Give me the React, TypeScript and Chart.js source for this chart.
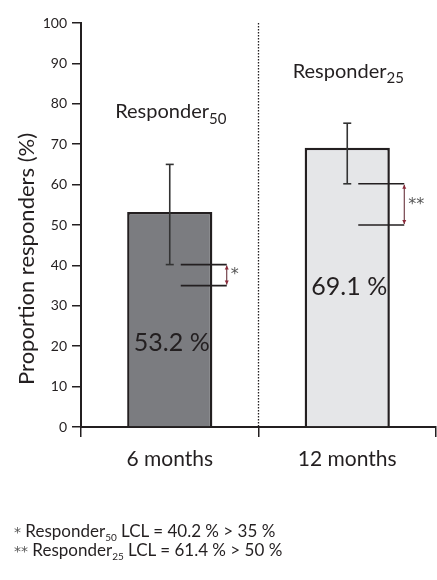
import React, { useEffect, useRef } from "react";
import { Chart, registerables } from "chart.js";

Chart.register(...registerables);

const categories = ["6 months", "12 months"];
const proportions = [53.2, 69.1];
const ciLower = [40.2, 60.2];
const ciUpper = [65.0, 75.2];
const thresholds = [35, 50];
const groupNames = ["Responder", "Responder"];
const groupSubs = ["50", "25"];
const markers = ["*", "**"];
const yMin = 0;
const yMax = 100;
const yStep = 10;
const yTitle = "Proportion responders (%)";
const footMarks = ["*", "**"];
const footSubs = ["50", "25"];
const footLCL = [40.2, 61.4];
const footLimits = [35, 50];

const FONT = "Lato, 'Open Sans', sans-serif";
const INK = "#231f20";

const overlay = {
  id: "overlay",
  afterDatasetsDraw(chart: any) {
    const ctx = chart.ctx as CanvasRenderingContext2D;
    const xs = chart.scales.x;
    const ys = chart.scales.y;
    const area = chart.chartArea;
    const meta = chart.getDatasetMeta(0);
    const line = (x0: number, y0: number, x1: number, y1: number) => {
      ctx.beginPath();
      ctx.moveTo(x0, y0);
      ctx.lineTo(x1, y1);
      ctx.stroke();
    };
    ctx.save();
    // dotted separator
    const mid = (xs.getPixelForValue(0) + xs.getPixelForValue(1)) / 2;
    ctx.setLineDash([1.5, 1.5]);
    ctx.strokeStyle = INK;
    ctx.lineWidth = 1.3;
    line(mid, area.top, mid, area.bottom);
    ctx.setLineDash([]);

    const groupLabelAt = [78, 88.1];
    const valueLabelAt = [20.8, 34.7];

    proportions.forEach((v, i) => {
      const cx = meta.data[i].x;
      const yl = ys.getPixelForValue(ciLower[i]);
      const yu = ys.getPixelForValue(ciUpper[i]);
      // error bar
      ctx.strokeStyle = "#333";
      ctx.lineWidth = 1.6;
      line(cx, yu, cx, yl);
      line(cx - 4, yu, cx + 4, yu);
      line(cx - 4, yl, cx + 4, yl);
      // bracket
      const yt = ys.getPixelForValue(thresholds[i]);
      const x0 = cx + 11;
      const x1 = cx + 57;
      ctx.strokeStyle = INK;
      ctx.lineWidth = 1.6;
      line(x0, yl, x1, yl);
      line(x0, yt, x1, yt);
      // double arrow
      ctx.strokeStyle = "#5a1f28";
      ctx.fillStyle = "#8b2a3a";
      ctx.lineWidth = 1;
      line(x1, yl + 1, x1, yt - 1);
      ctx.beginPath();
      ctx.moveTo(x1, yl + 1);
      ctx.lineTo(x1 - 2, yl + 5);
      ctx.lineTo(x1 + 2, yl + 5);
      ctx.closePath();
      ctx.fill();
      ctx.beginPath();
      ctx.moveTo(x1, yt - 1);
      ctx.lineTo(x1 - 2, yt - 5);
      ctx.lineTo(x1 + 2, yt - 5);
      ctx.closePath();
      ctx.fill();
      // marker
      ctx.fillStyle = "#555";
      ctx.font = `16px 'DejaVu Sans', sans-serif`;
      ctx.textAlign = "left";
      ctx.textBaseline = "middle";
      ctx.fillText(markers[i], x1 + 4, (yl + yt) / 2);
      // value label
      ctx.fillStyle = INK;
      ctx.font = `25px ${FONT}`;
      ctx.textAlign = "center";
      ctx.fillText(`${v.toFixed(1)} %`, cx + 2, ys.getPixelForValue(valueLabelAt[i]));
      // group label with subscript
      const gy = ys.getPixelForValue(groupLabelAt[i]);
      ctx.font = `20px ${FONT}`;
      const w1 = ctx.measureText(groupNames[i]).width;
      ctx.font = `15px ${FONT}`;
      const w2 = ctx.measureText(groupSubs[i]).width;
      const start = cx + 1 - (w1 + w2) / 2;
      ctx.textAlign = "left";
      ctx.font = `20px ${FONT}`;
      ctx.fillText(groupNames[i], start, gy);
      ctx.font = `15px ${FONT}`;
      ctx.fillText(groupSubs[i], start + w1, gy + 7);
    });

    // y title
    ctx.save();
    ctx.translate(27, ys.getPixelForValue(41.6));
    ctx.rotate(-Math.PI / 2);
    ctx.fillStyle = INK;
    ctx.font = `22px ${FONT}`;
    ctx.textAlign = "center";
    ctx.textBaseline = "middle";
    ctx.fillText(yTitle, 0, 0);
    ctx.restore();
    ctx.restore();
  },
};

export default function App() {
  const ref = useRef<HTMLCanvasElement | null>(null);
  useEffect(() => {
    document.body.style.margin = "0";
    if (!ref.current) return;
    const chart = new Chart(ref.current, {
      type: "bar",
      data: {
        labels: categories,
        datasets: [
          {
            data: proportions,
            backgroundColor: ["#7b7c80", "#e5e6e8"],
            borderColor: INK,
            borderWidth: 2.5,
            borderSkipped: "bottom",
            barPercentage: 0.48,
            categoryPercentage: 1,
          },
        ],
      },
      options: {
        responsive: false,
        animation: false,
        devicePixelRatio: 1,
        layout: { padding: { top: 23, right: 1, left: 0, bottom: 0 } },
        plugins: {
          legend: { display: false },
          tooltip: { enabled: false },
          title: { display: false },
        },
        scales: {
          x: {
            type: "category",
            offset: true,
            grid: {
              display: true,
              offset: true,
              drawOnChartArea: false,
              drawTicks: true,
              tickLength: 10,
              color: INK,
              lineWidth: 1.5,
            },
            border: { display: true, color: INK, width: 2 },
            ticks: {
              color: INK,
              font: { family: FONT, size: 21 },
              padding: 10,
            },
            afterFit: (s: any) => {
              s.height = 153;
            },
          },
          y: {
            min: yMin,
            max: yMax,
            ticks: {
              stepSize: yStep,
              color: INK,
              font: { family: FONT, size: 14 },
              padding: 5,
            },
            grid: {
              display: true,
              drawOnChartArea: false,
              drawTicks: true,
              tickLength: 9,
              color: INK,
              lineWidth: 1.5,
            },
            border: { display: true, color: INK, width: 2 },
            afterFit: (s: any) => {
              s.width = 81;
            },
          },
        },
      },
      plugins: [overlay],
    });
    return () => chart.destroy();
  }, []);

  const subStyle: React.CSSProperties = {
    fontSize: 10,
    lineHeight: 0,
    verticalAlign: "-4px",
  };

  return (
    <div style={{ position: "relative", width: 437, height: 580, background: "#fff" }}>
      <canvas ref={ref} width={437} height={580} style={{ display: "block" }} />
      <div
        style={{
          position: "absolute",
          left: 14,
          top: 522,
          fontFamily: FONT,
          fontSize: 17,
          lineHeight: "18px",
          color: INK,
          whiteSpace: "nowrap",
        }}
      >
        {footMarks.map((m, i) => (
          <div key={i}>
            <span style={{ color: "#555", fontFamily: "'DejaVu Sans', sans-serif", fontSize: 14 }}>{m}</span> Responder
            <span style={subStyle}>{footSubs[i]}</span> LCL = {footLCL[i]} % &gt; {footLimits[i]} %
          </div>
        ))}
      </div>
    </div>
  );
}
